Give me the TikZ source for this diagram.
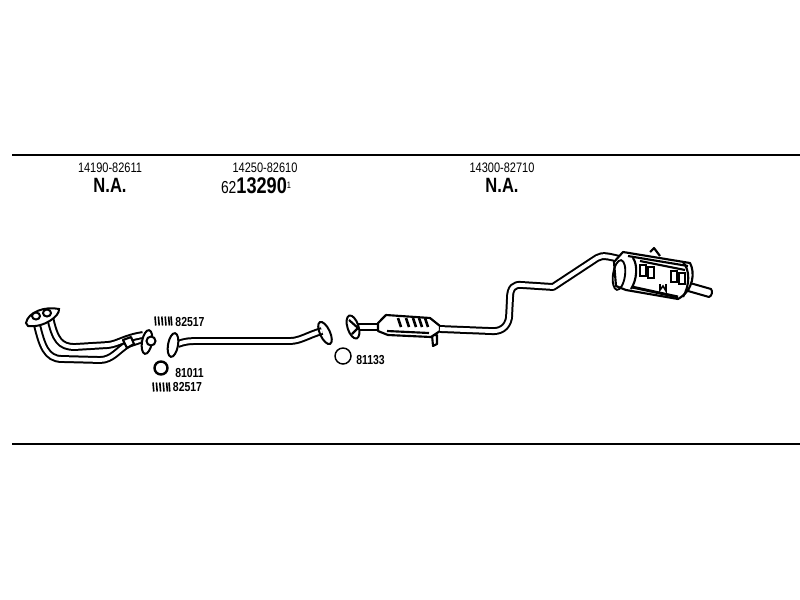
\documentclass[tikz,border=0pt]{standalone}
\usepackage{fontspec}
\newfontfamily\partfont[FakeStretch=0.8]{Liberation Sans}
\tikzset{every picture/.style={line width=0.75pt}}
\tikzset{
  tube/.style={draw=black,double=white,double distance=2.9pt,line width=1.5pt,line cap=butt,line join=round},
  rule/.style={draw=black,line width=1.3pt},
  partno/.style={inner sep=0pt,font=\partfont\fontsize{10.3}{11}\selectfont},
  partbold/.style={inner sep=0pt,font=\partfont\bfseries\fontsize{15.5}{16}\selectfont},
  smallno/.style={inner sep=0pt,font=\partfont\bfseries\fontsize{9.8}{10}\selectfont},
  flange/.style={draw=black,fill=white,line width=1.5pt},
  ring/.style={draw=black,line width=1.1pt},
  heavy/.style={draw=black,line width=1.6pt,line join=round}
}
\newcommand{\springmark}[2]{%
  \foreach \k in {0,3.4,6.8,10.2,13.6,16}{
    \draw [line width=1.2pt] (#1+\k,#2-4.5) -- (#1+\k+0.8,#2+4.5) ;
  }
}
\begin{document}
\begin{tikzpicture}[x=0.75pt,y=0.75pt,yscale=-1,xscale=1]
\path [use as bounding box] (0,0) rectangle (800,600);

%Rules
\coordinate (ruleAl) at (12,155); \coordinate (ruleAr) at (800,155);
\coordinate (ruleBl) at (12,444); \coordinate (ruleBr) at (800,444);
\draw [rule] (ruleAl) -- (ruleAr) ;
\draw [rule] (ruleBl) -- (ruleBr) ;

%Front pipe
\draw [tube] (37,325) .. controls (42,345) and (46,359) .. (62,359) -- (100,360) .. controls (112,360) and (118,350) .. (128,344) -- (140,340) ;
\draw [tube] (50,317) .. controls (55,340) and (60,347) .. (75,347) -- (108,345) .. controls (118,344) and (124,338) .. (143,335) ;
\draw [heavy,fill=white] (123,340) -- (131,337) -- (134,344) -- (127,348) -- cycle ;
\draw [flange] (26,323) .. controls (28,312) and (45,306) .. (59,309) .. controls (60,316) and (44,328) .. (28,326) -- cycle ;
\draw [flange] (36,316) circle [x radius=4, y radius=3.5] ;
\draw [flange] (47,313) circle [x radius=4, y radius=3.5] ;
\draw [flange,rotate around={10:(147,342)}] (147,342) ellipse [x radius=5, y radius=12] ;
\draw [flange] (151,341) circle [radius=4.5] ;

%Middle pipe
\draw [tube] (178,344) .. controls (186,341) and (190,341) .. (200,341) -- (290,341) .. controls (300,341) and (308,335) .. (322,331) ;
\draw [flange,rotate around={10:(173,345)}] (173,345) ellipse [x radius=5, y radius=12] ;
\draw [flange,fill=none,rotate around={-25:(325,333)}] (325,333) ellipse [x radius=5, y radius=12] ;

%Catalytic converter
\draw [tube] (358,327) -- (379,327) ;
\draw [flange,rotate around={-18:(353,327)}] (353,327) ellipse [x radius=5.5, y radius=12] ;
\draw [heavy] (349,320) -- (358,328) -- (352,334) ;
\draw [heavy,fill=white] (432,335) -- (437,335) -- (437,344) -- (433,346) -- cycle ;
\draw [heavy,fill=white] (378,323) -- (386,315) -- (430,318) -- (440,326) -- (440,331) -- (431,337) -- (388,335) -- (378,331) -- cycle ;
\draw [heavy] (387,331) -- (429,333) ;
\foreach \rx in {398,406,413,419,425}{
  \draw [line width=2pt] (\rx,318) -- (\rx+3,327) ;
}

%Rear pipe
\draw [tube] (440,329) -- (490,331) .. controls (500,332) and (507,328) .. (509,318) -- (510,298) .. controls (510,288) and (514,284) .. (522,285) -- (553,287) -- (597,258) .. controls (603,254) and (610,257) .. (628,261) ;

%Tail pipe
\draw [draw=black,fill=white,line width=1.5pt,line join=round] (690,283) -- (711,289) .. controls (713,291) and (712,296) .. (709,297) -- (688,291) -- cycle ;

%Muffler
\draw [heavy,fill=white] (614,262) -- (623,252) -- (690,263) .. controls (695,272) and (694,290) .. (678,299) -- (626,290) -- (616,286) -- cycle ;
\draw [heavy] (650,252) -- (654,248) -- (660,256) ;
\draw [heavy] (628,256) -- (688,266) ;
\draw [heavy] (640,261) -- (685,270) ;
\draw [draw=black,fill=none,line width=1.4pt,rotate around={8:(619,275)}] (619,275) ellipse [x radius=6, y radius=15] ;
\draw [heavy] (633,258) .. controls (638,265) and (637,280) .. (631,289) ;
\draw [heavy] (683,262) .. controls (690,270) and (690,285) .. (683,297) ;
\draw [line width=2.2pt] (632,287) -- (678,297) ;
\foreach \sx/\sy in {640/265,648/267,671/271,679/273}{
  \draw [line width=1pt] (\sx,\sy) rectangle (\sx+6,\sy+11) ;
}
\draw [line width=1.2pt] (660,284) -- (660,290) -- (663,286) -- (666,291) -- (666,284) ;

%Rings and clips
\draw [ring,line width=1.8pt] (161,368) circle [radius=6.5] ;
\draw [ring] (343,356) circle [radius=8] ;
\springmark{155}{321}
\springmark{153}{387}

%Labels
\node [partno] (partA) at (110,168) {14190-82611};
\node [partbold] (naA) at (110,185) {N.A.};
\node [partno] (partB) at (265,168) {14250-82610};
\node [inner sep=0pt] (orderB) at (256,186) {\partfont\fontsize{13}{14}\selectfont 62{\bfseries\fontsize{17}{18}\selectfont 13290}\raisebox{4pt}{\fontsize{7}{7}\selectfont 1}};
\node [partno] (partC) at (502,168) {14300-82710};
\node [partbold] (naC) at (502,185) {N.A.};
\node [smallno] (clipA) at (190,322) {82517};
\node [smallno] (ringA) at (189.5,373) {81011};
\node [smallno] (clipB) at (187.5,387) {82517};
\node [smallno] (ringB) at (370.5,360) {81133};
\end{tikzpicture}
\end{document}
